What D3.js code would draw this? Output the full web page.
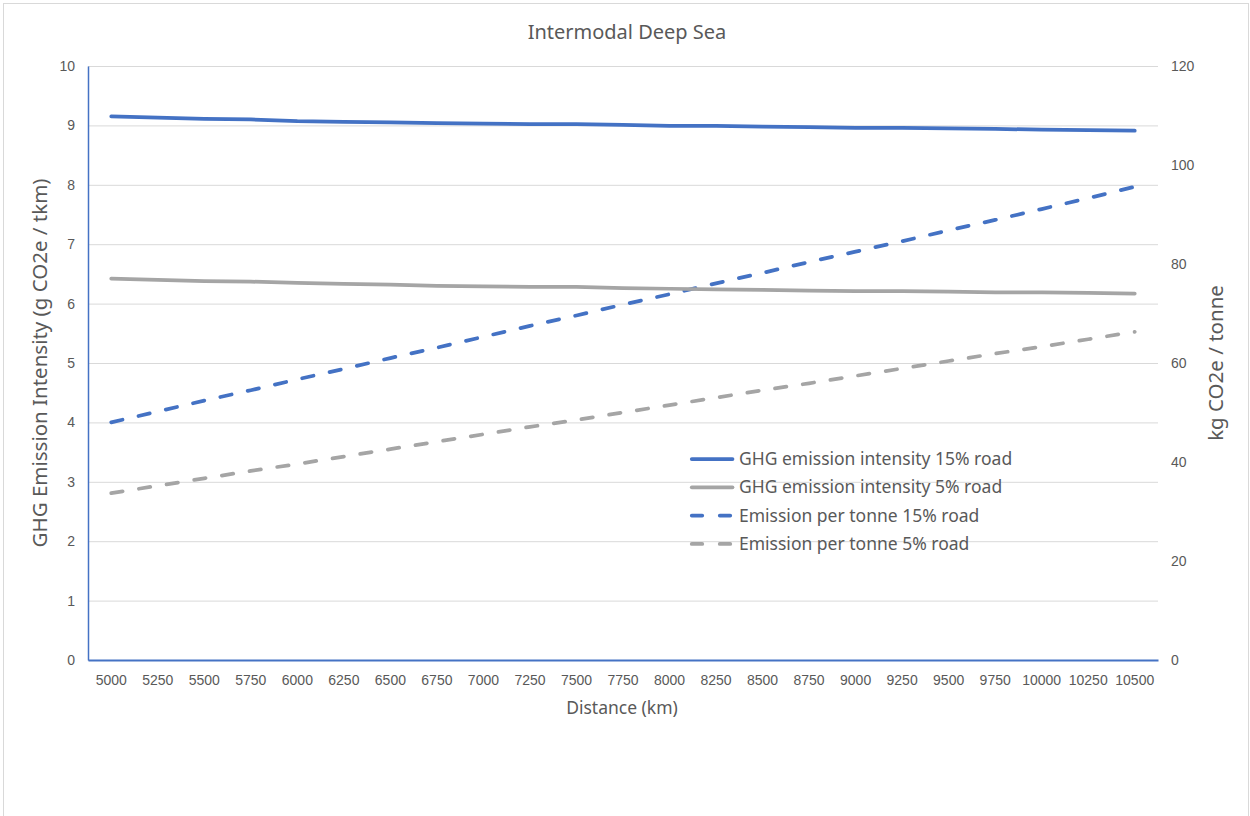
<!DOCTYPE html>
<html>
<head>
<meta charset="utf-8">
<script src="https://cdn.jsdelivr.net/npm/d3@7"></script>
<style>
  html, body { margin: 0; padding: 0; background: #fff; }
  svg { display: block; font-family: "Noto Sans", "Open Sans", sans-serif; }
</style>
</head>
<body>
<svg id="chart" width="1250" height="816"></svg>
<script>
// Distances (km) on the category axis
const distances = [5000, 5250, 5500, 5750, 6000, 6250, 6500, 6750, 7000, 7250, 7500, 7750,
  8000, 8250, 8500, 8750, 9000, 9250, 9500, 9750, 10000, 10250, 10500];

// GHG emission intensity, g CO2e / tkm (left axis)
const intensity15 = [9.15, 9.13, 9.11, 9.10, 9.07, 9.06, 9.05, 9.04, 9.03, 9.02, 9.02, 9.01,
  8.99, 8.99, 8.98, 8.97, 8.96, 8.96, 8.95, 8.94, 8.93, 8.92, 8.91];
const intensity5 = [6.42, 6.40, 6.38, 6.37, 6.35, 6.33, 6.32, 6.30, 6.29, 6.28, 6.28, 6.26,
  6.25, 6.24, 6.23, 6.22, 6.21, 6.21, 6.20, 6.19, 6.19, 6.18, 6.17];

// Emission per tonne, kg CO2e / tonne (right axis)
const perTonne15 = [48.0, 50.2, 52.4, 54.5, 56.7, 58.8, 61.0, 63.1, 65.3, 67.5, 69.6, 71.8,
  73.9, 76.1, 78.2, 80.4, 82.5, 84.6, 86.8, 88.9, 91.1, 93.3, 95.6];
const perTonne5 = [33.7, 35.2, 36.7, 38.2, 39.6, 41.1, 42.6, 44.1, 45.6, 47.1, 48.5, 50.0,
  51.5, 53.0, 54.5, 55.9, 57.4, 58.9, 60.4, 61.9, 63.3, 64.8, 66.3];

const leftTicks = [0, 1, 2, 3, 4, 5, 6, 7, 8, 9, 10];
const rightTicks = [0, 20, 40, 60, 80, 100, 120];

const seriesNames = [
  "GHG emission intensity 15% road",
  "GHG emission intensity 5% road",
  "Emission per tonne 15% road",
  "Emission per tonne 5% road"
];

const BLUE = "#4472C4", GREY = "#A5A5A5", TEXT = "#595959", GRID = "#D9D9D9";

const svg = d3.select("#chart");
const m = { left: 88, right: 1158, top: 66, bottom: 660 };

// Chart frame
svg.append("rect")
  .attr("x", 3.5).attr("y", 3.5).attr("width", 1245).attr("height", 830)
  .attr("fill", "none").attr("stroke", GRID).attr("stroke-width", 1);

const x = d3.scaleBand().domain(distances).range([m.left, m.right]).padding(0);
const xc = d => x(d) + x.bandwidth() / 2;
const yL = d3.scaleLinear().domain([0, 10]).range([m.bottom, m.top]);
const yR = d3.scaleLinear().domain([0, 120]).range([m.bottom, m.top]);

// Horizontal gridlines from the left axis
const gGrid = svg.append("g")
  .attr("transform", `translate(${m.left},0)`)
  .call(d3.axisLeft(yL).tickValues(leftTicks).tickSize(-(m.right - m.left)).tickFormat(""));
gGrid.select(".domain").remove();
gGrid.selectAll(".tick line").attr("stroke", GRID).attr("stroke-width", 1);

// Left axis
const gL = svg.append("g")
  .attr("transform", `translate(${m.left},0)`)
  .call(d3.axisLeft(yL).tickValues(leftTicks).tickSize(0).tickPadding(13));
gL.select(".domain").attr("stroke", BLUE).attr("stroke-width", 1.5);
gL.selectAll("text").attr("fill", TEXT).style("font-size", "14px");

// Right axis
const gR = svg.append("g")
  .attr("transform", `translate(${m.right},0)`)
  .call(d3.axisRight(yR).tickValues(rightTicks).tickSize(0).tickPadding(13));
gR.select(".domain").remove();
gR.selectAll("text").attr("fill", TEXT).style("font-size", "14px");

// Bottom axis
const gX = svg.append("g")
  .attr("transform", `translate(0,${m.bottom})`)
  .call(d3.axisBottom(x).tickSize(0).tickPadding(15));
gX.select(".domain").attr("stroke", BLUE).attr("stroke-width", 2);
gX.selectAll("text").attr("fill", TEXT).style("font-size", "14px");

// Titles
svg.append("text").attr("x", 627).attr("y", 39).attr("text-anchor", "middle")
  .attr("fill", TEXT).style("font-size", "20px").text("Intermodal Deep Sea");
svg.append("text").attr("x", (m.left + m.right) / 2 - 1).attr("y", 714).attr("text-anchor", "middle")
  .attr("fill", TEXT).style("font-size", "17.5px").text("Distance (km)");
svg.append("text").attr("transform", `translate(47,${(m.top + m.bottom) / 2}) rotate(-90)`)
  .attr("text-anchor", "middle").attr("fill", TEXT).style("font-size", "20.5px")
  .text("GHG Emission Intensity (g CO2e / tkm)");
svg.append("text").attr("transform", `translate(1223,${(m.top + m.bottom) / 2}) rotate(-90)`)
  .attr("text-anchor", "middle").attr("fill", TEXT).style("font-size", "20.5px")
  .text("kg CO2e / tonne");

// Series lines
const lineL = d3.line().x((d, i) => xc(distances[i])).y(d => yL(d));
const lineR = d3.line().x((d, i) => xc(distances[i])).y(d => yR(d));

const series = [
  { values: perTonne5, gen: lineR, color: GREY, dash: "11.5,16.5" },
  { values: perTonne15, gen: lineR, color: BLUE, dash: "11.5,16.5" },
  { values: intensity5, gen: lineL, color: GREY, dash: null },
  { values: intensity15, gen: lineL, color: BLUE, dash: null }
];
series.forEach(s => {
  svg.append("path").datum(s.values)
    .attr("d", s.gen)
    .attr("fill", "none")
    .attr("stroke", s.color)
    .attr("stroke-width", 3.75)
    .attr("stroke-linecap", "round")
    .attr("stroke-linejoin", "round")
    .attr("stroke-dasharray", s.dash);
});

// Legend
const legendStyles = [
  { color: BLUE, dash: null },
  { color: GREY, dash: null },
  { color: BLUE, dash: "10.5,17.5" },
  { color: GREY, dash: "10.5,17.5" }
];
const legend = svg.append("g").attr("transform", "translate(690,459)");
seriesNames.forEach((name, i) => {
  const row = legend.append("g").attr("transform", `translate(0,${i * 28.3})`);
  row.append("line")
    .attr("x1", 1.75).attr("x2", 42.5).attr("y1", 0).attr("y2", 0)
    .attr("stroke", legendStyles[i].color).attr("stroke-width", 3.75)
    .attr("stroke-linecap", "round")
    .attr("stroke-dasharray", legendStyles[i].dash);
  row.append("text").attr("x", 49).attr("y", 0).attr("dy", "0.35em")
    .attr("fill", TEXT).style("font-size", "17.5px").text(name);
});
</script>
</body>
</html>
